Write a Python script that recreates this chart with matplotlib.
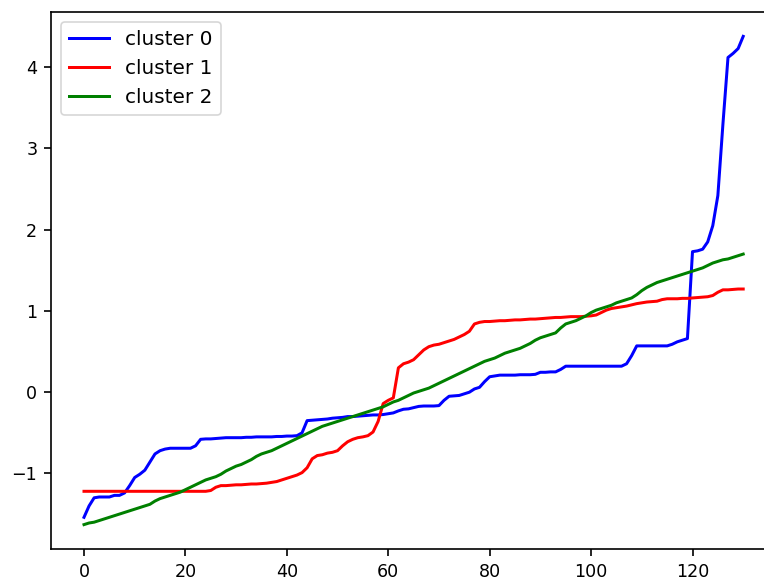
import matplotlib

matplotlib.use("Agg")
import matplotlib.pyplot as plt  # noqa: E402
import numpy as np  # noqa: E402

# sorted per-cluster values, one entry per sample index 0..130
cluster0 = [
    -1.54, -1.40, -1.30, -1.29, -1.29, -1.29, -1.27, -1.27, -1.24, -1.15,
    -1.05, -1.01, -0.96, -0.86, -0.76, -0.72, -0.70, -0.69, -0.69, -0.69,
    -0.69, -0.69, -0.66, -0.58, -0.575, -0.575, -0.57, -0.565, -0.56, -0.56,
    -0.56, -0.56, -0.555, -0.555, -0.55, -0.55, -0.55, -0.55, -0.545, -0.545,
    -0.54, -0.54, -0.535, -0.50, -0.35, -0.345, -0.34, -0.335, -0.33, -0.32,
    -0.315, -0.31, -0.30, -0.30, -0.295, -0.29, -0.285, -0.28, -0.28, -0.275,
    -0.265, -0.255, -0.23, -0.21, -0.205, -0.19, -0.175, -0.17, -0.17, -0.17,
    -0.165, -0.10, -0.05, -0.045, -0.04, -0.02, 0.00, 0.04, 0.06, 0.13,
    0.19, 0.20, 0.21, 0.21, 0.21, 0.21, 0.215, 0.215, 0.215, 0.22,
    0.245, 0.245, 0.25, 0.25, 0.28, 0.32, 0.32, 0.32, 0.32, 0.32,
    0.32, 0.32, 0.32, 0.32, 0.32, 0.32, 0.32, 0.35, 0.45, 0.57,
    0.57, 0.57, 0.57, 0.57, 0.57, 0.57, 0.59, 0.62, 0.64, 0.66,
    1.73, 1.74, 1.76, 1.85, 2.05, 2.42, 3.30, 4.12, 4.17, 4.23,
    4.38,
]
cluster1 = [
    -1.22, -1.22, -1.22, -1.22, -1.22, -1.22, -1.22, -1.22, -1.22, -1.22,
    -1.22, -1.22, -1.22, -1.22, -1.22, -1.22, -1.22, -1.22, -1.22, -1.22,
    -1.22, -1.22, -1.22, -1.22, -1.22, -1.21, -1.17, -1.15, -1.15, -1.145,
    -1.14, -1.14, -1.135, -1.13, -1.13, -1.125, -1.12, -1.11, -1.10, -1.08,
    -1.06, -1.04, -1.02, -0.99, -0.93, -0.82, -0.78, -0.77, -0.75, -0.74,
    -0.72, -0.66, -0.61, -0.58, -0.56, -0.55, -0.535, -0.49, -0.36, -0.14,
    -0.10, -0.07, 0.30, 0.35, 0.37, 0.40, 0.46, 0.52, 0.56, 0.58,
    0.59, 0.61, 0.63, 0.65, 0.68, 0.71, 0.75, 0.84, 0.86, 0.87,
    0.87, 0.875, 0.88, 0.88, 0.885, 0.89, 0.89, 0.895, 0.90, 0.90,
    0.905, 0.91, 0.915, 0.92, 0.92, 0.925, 0.93, 0.93, 0.93, 0.935,
    0.94, 0.95, 0.98, 1.01, 1.03, 1.04, 1.05, 1.06, 1.075, 1.09,
    1.10, 1.11, 1.115, 1.12, 1.14, 1.15, 1.15, 1.15, 1.155, 1.155,
    1.16, 1.165, 1.17, 1.175, 1.19, 1.23, 1.26, 1.26, 1.265, 1.27,
    1.27,
]
cluster2 = [
    -1.63, -1.61, -1.60, -1.58, -1.56, -1.54, -1.52, -1.50, -1.48, -1.46,
    -1.44, -1.42, -1.40, -1.38, -1.34, -1.31, -1.29, -1.27, -1.25, -1.23,
    -1.20, -1.17, -1.14, -1.11, -1.08, -1.06, -1.04, -1.01, -0.97, -0.94,
    -0.91, -0.89, -0.86, -0.83, -0.79, -0.76, -0.74, -0.72, -0.69, -0.66,
    -0.63, -0.60, -0.57, -0.54, -0.51, -0.48, -0.45, -0.42, -0.40, -0.38,
    -0.36, -0.34, -0.32, -0.30, -0.28, -0.26, -0.24, -0.22, -0.20, -0.18,
    -0.15, -0.12, -0.10, -0.07, -0.04, -0.01, 0.01, 0.03, 0.05, 0.08,
    0.11, 0.14, 0.17, 0.20, 0.23, 0.26, 0.29, 0.32, 0.35, 0.38,
    0.40, 0.42, 0.45, 0.48, 0.50, 0.52, 0.54, 0.57, 0.60, 0.64,
    0.67, 0.69, 0.71, 0.73, 0.79, 0.84, 0.86, 0.88, 0.91, 0.94,
    0.98, 1.01, 1.03, 1.05, 1.07, 1.10, 1.12, 1.14, 1.16, 1.20,
    1.25, 1.29, 1.32, 1.35, 1.37, 1.39, 1.41, 1.43, 1.45, 1.47,
    1.49, 1.51, 1.53, 1.56, 1.59, 1.61, 1.63, 1.64, 1.66, 1.68,
    1.70,
]
labels = ["cluster 0", "cluster 1", "cluster 2"]
colors = ["blue", "red", "green"]

plt.rcParams.update({
    "xtick.labelsize": 10.5, "ytick.labelsize": 10.5,
    "xtick.major.size": 4.2, "ytick.major.size": 4.2,
    "xtick.major.width": 1.0, "ytick.major.width": 1.0,
    "xtick.major.pad": 4.0, "ytick.major.pad": 4.0,
    "axes.linewidth": 1.0, "legend.fontsize": 12,
})

fig = plt.figure(figsize=(764 / 120, 580 / 120), dpi=120)
# frame runs off the right edge: keep the left part of the usual 5% x-margin view
ax = fig.add_axes([0.0668, 0.0534, 0.9332, 0.926])

for vals, lab, col in zip([cluster0, cluster1, cluster2], labels, colors):
    ax.plot(np.arange(len(vals)), vals, color=col, lw=1.8, label=lab)

ax.set_xlim(-6.5, 134.1)
ax.spines["right"].set_visible(False)
ax.legend(loc="upper left")
fig.savefig("out.png", dpi=120)
